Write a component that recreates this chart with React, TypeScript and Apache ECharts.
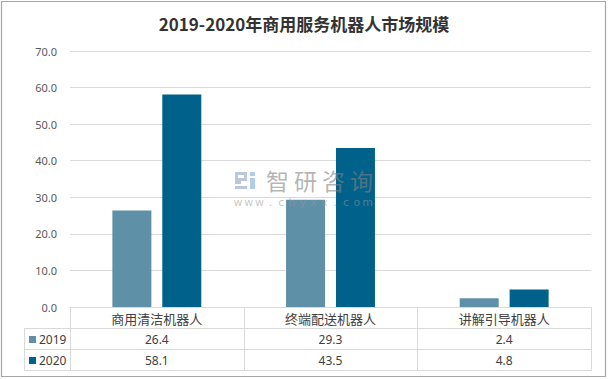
import React, { useEffect, useRef } from "react";
import * as echarts from "echarts";

const title = "2019-2020年商用服务机器人市场规模";
const categories = ["商用清洁机器人", "终端配送机器人", "讲解引导机器人"];
const seriesNames = ["2019", "2020"];
const values2019 = [26.4, 29.3, 2.4];
const values2020 = [58.1, 43.5, 4.8];
const yTicks = { min: 0, max: 70, interval: 10 };
const colors = ["#5E91A8", "#00618A"];
const watermarkChars = ["智", "研", "咨", "询"];
const watermarkUrl = "www.chyxx.com";

const W = 608;
const H = 379;
const GL = 70;
const GR = 591;
const GT = 51;
const GB = 307;
const ROW1 = 328;
const ROW2 = 349;
const ROW3 = 370;
const TL = 24;

export default function App() {
  const ref = useRef<HTMLDivElement>(null);
  useEffect(() => {
    if (!ref.current) return;
    const chart = echarts.init(ref.current, undefined, { renderer: "svg" });
    const lineColor = "#D9D9D9";
    const colW = (GR - GL) / categories.length;
    const graphics: any[] = [];
    graphics.push({
      type: "rect",
      shape: { x: 1.5, y: 1.5, width: W - 4, height: H - 4 },
      style: { fill: "none", stroke: "#A6A6A6", lineWidth: 1.2 },
      silent: true,
    });
    [ROW1, ROW2, ROW3].forEach((y) => {
      graphics.push({
        type: "line",
        shape: { x1: TL, y1: y + 0.5, x2: GR, y2: y + 0.5 },
        style: { stroke: lineColor, lineWidth: 1 },
        silent: true,
      });
    });
    graphics.push({
      type: "line",
      shape: { x1: TL + 0.5, y1: ROW1, x2: TL + 0.5, y2: ROW3 + 0.5 },
      style: { stroke: lineColor, lineWidth: 1 },
      silent: true,
    });
    for (let i = 0; i <= categories.length; i++) {
      const x = Math.round(GL + i * colW) + 0.5;
      graphics.push({
        type: "line",
        shape: { x1: x, y1: GB, x2: x, y2: ROW3 + 0.5 },
        style: { stroke: lineColor, lineWidth: 1 },
        silent: true,
      });
    }
    const rows = [values2019, values2020];
    const rowCenters = [(ROW1 + ROW2) / 2 + 1, (ROW2 + ROW3) / 2 + 1];
    rows.forEach((vals, r) => {
      graphics.push({
        type: "rect",
        shape: { x: 29, y: rowCenters[r] - 3.5, width: 7, height: 7 },
        style: { fill: colors[r] },
        silent: true,
      });
      graphics.push({
        type: "text",
        x: 39,
        y: rowCenters[r],
        style: {
          text: seriesNames[r],
          font: "12px 'Noto Sans', sans-serif",
          fill: "#404040",
          textAlign: "left",
          textVerticalAlign: "middle",
        },
        silent: true,
      });
      vals.forEach((v, i) => {
        graphics.push({
          type: "text",
          x: GL + (i + 0.5) * colW,
          y: rowCenters[r],
          style: {
            text: v.toFixed(1),
            font: "12px 'Noto Sans', sans-serif",
            fill: "#404040",
            textAlign: "center",
            textVerticalAlign: "middle",
          },
          silent: true,
        });
      });
    });
    const wmZ = 100;
    const logoA = "rgba(160,175,205,0.7)";
    const logoB = "rgba(150,190,230,0.75)";
    graphics.push(
      { type: "polygon", z: wmZ, silent: true, shape: { points: [[235, 172], [247, 172], [247, 181], [241, 181], [241, 184], [235, 184]] }, style: { fill: logoA } },
      { type: "rect", z: wmZ + 1, silent: true, shape: { x: 238, y: 175, width: 6, height: 3 }, style: { fill: "#fff" } },
      { type: "rect", z: wmZ, silent: true, shape: { x: 235, y: 186, width: 12, height: 3 }, style: { fill: logoA } },
      { type: "rect", z: wmZ, silent: true, shape: { x: 250, y: 172, width: 5, height: 4 }, style: { fill: logoB } },
      { type: "rect", z: wmZ, silent: true, shape: { x: 250, y: 178, width: 5, height: 11 }, style: { fill: logoB } }
    );
    watermarkChars.forEach((c, i) => {
      graphics.push({
        type: "text",
        z: wmZ,
        silent: true,
        x: 266 + i * 28,
        y: 180,
        style: {
          text: c,
          font: "23px 'Noto Sans CJK SC', sans-serif",
          fill: "rgba(130,130,130,0.6)",
          textAlign: "left",
          textVerticalAlign: "middle",
        },
      });
    });
    watermarkUrl.split("").forEach((c, i) => {
      graphics.push({
        type: "text",
        z: wmZ,
        silent: true,
        x: 238 + i * 10.8,
        y: 202,
        style: {
          text: c,
          font: "11px 'DejaVu Sans', sans-serif",
          fill: "rgba(150,150,150,0.55)",
          textAlign: "center",
          textVerticalAlign: "middle",
        },
      });
    });

    chart.setOption({
      animation: false,
      backgroundColor: "#fff",
      title: {
        text: title,
        left: "center",
        top: 10,
        textStyle: {
          fontFamily: "'Noto Sans CJK SC', sans-serif",
          fontSize: 17,
          fontWeight: "bold",
          color: "#333333",
        },
      },
      grid: { left: GL, right: W - GR, top: GT, bottom: H - GB, containLabel: false },
      xAxis: {
        type: "category",
        data: categories,
        axisLine: { show: true, lineStyle: { color: lineColor } },
        axisTick: { show: false },
        axisLabel: {
          margin: 5,
          fontSize: 13,
          color: "#404040",
          fontFamily: "'Noto Sans CJK SC', sans-serif",
          interval: 0,
        },
      },
      yAxis: {
        type: "value",
        min: yTicks.min,
        max: yTicks.max,
        interval: yTicks.interval,
        axisLine: { show: false },
        axisTick: { show: false },
        splitLine: { lineStyle: { color: lineColor } },
        axisLabel: {
          margin: 13,
          fontSize: 11,
          color: "#595959",
          fontFamily: "'Noto Sans', sans-serif",
          formatter: (v: number) => v.toFixed(1),
        },
      },
      series: [
        { name: seriesNames[0], type: "bar", data: values2019, barWidth: 39, barGap: "28%", itemStyle: { color: colors[0] } },
        { name: seriesNames[1], type: "bar", data: values2020, barWidth: 39, barGap: "28%", itemStyle: { color: colors[1] } },
      ],
      graphic: graphics,
    });
    return () => chart.dispose();
  }, []);
  return (
    <div
      ref={ref}
      style={{ position: "fixed", left: 0, top: 0, width: W, height: H }}
    />
  );
}
